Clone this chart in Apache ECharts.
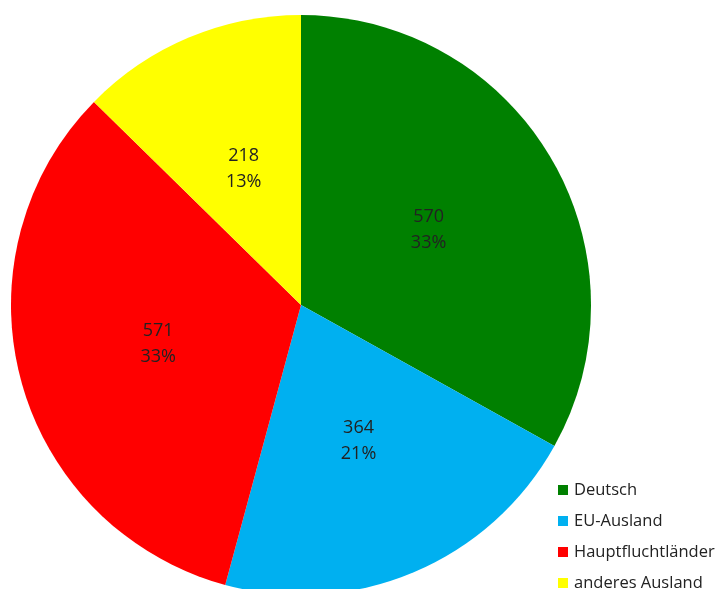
<!DOCTYPE html>
<html>
<head>
<meta charset="utf-8">
<script src="https://cdn.jsdelivr.net/npm/echarts@6/dist/echarts.min.js"></script>
<style>html,body{margin:0;padding:0;background:#fff;}#c{width:719px;height:589px;}</style>
</head>
<body>
<div id="c"></div>
<script>
const categories = ["Deutsch", "EU-Ausland", "Hauptfluchtländer", "anderes Ausland"];
const values = [570, 364, 571, 218];
const colors = ["#008000", "#00B0F0", "#FF0000", "#FFFF00"];

const total = values.reduce((a, b) => a + b, 0);
const chart = echarts.init(document.getElementById('c'));
chart.setOption({
  animation: false,
  legend: {
    orient: 'vertical',
    left: 553,
    top: 476,
    height: 160,
    padding: 5,
    icon: 'rect',
    itemWidth: 10,
    itemHeight: 10,
    itemGap: 13,
    textStyle: { fontFamily: 'Open Sans', fontSize: 16.5, color: '#222', lineHeight: 18, padding: [0, 0, 0, 1] },
    data: categories
  },
  series: [{
    type: 'pie',
    center: [301, 305],
    radius: 290,
    startAngle: 90,
    clockwise: true,
    data: categories.map((n, i) => ({ name: n, value: values[i], itemStyle: { color: colors[i] } })),
    itemStyle: { borderWidth: 0 },
    label: {
      position: 'inside',
      fontFamily: 'Open Sans',
      fontSize: 18,
      color: '#222',
      lineHeight: 26,
      formatter: p => p.value + '\n' + Math.round(p.value / total * 100) + '%'
    },
    labelLine: { show: false }
  }]
});
</script>
</body>
</html>
